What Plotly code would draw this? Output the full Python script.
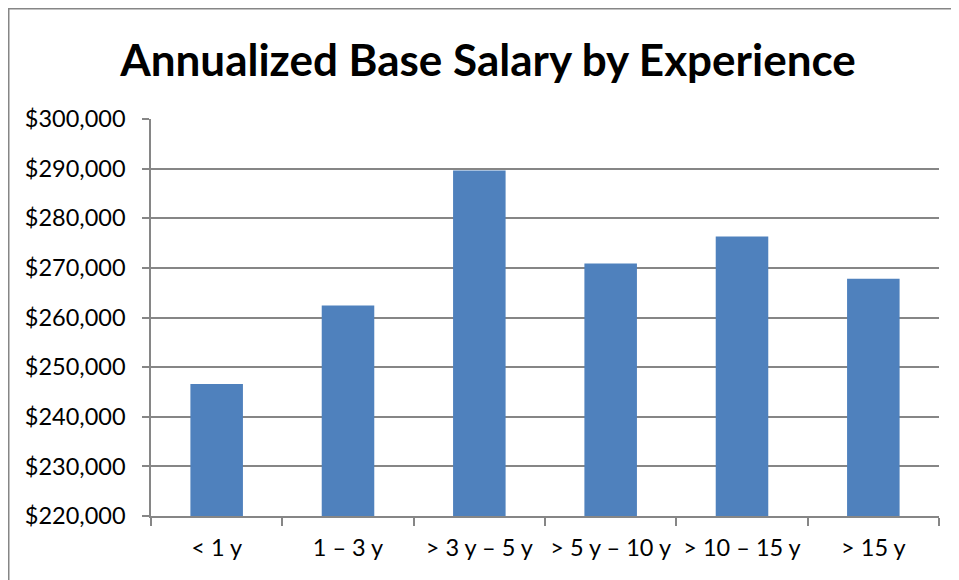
import plotly.graph_objects as go

categories = ["< 1 y", "1 – 3 y", "> 3 y – 5 y", "> 5 y – 10 y", "> 10 – 15 y", "> 15 y"]
salaries = [246600, 262400, 289600, 270900, 276300, 267800]
y_tick_values = [220000, 230000, 240000, 250000, 260000, 270000, 280000, 290000, 300000]
y_tick_labels = ["$220,000", "$230,000", "$240,000", "$250,000", "$260,000",
                 "$270,000", "$280,000", "$290,000", "$300,000"]
title_text = "Annualized Base Salary by Experience"

# page body has an 8px margin, so the figure fills the window from (8, 8)
W, H = 951, 572
L, R, T, B = 143, 20, 111, 64
pw, ph = W - L - R, H - T - B

def px_x(x):
    return (x - L) / pw

def px_y(y):
    return (H - B - y) / ph

GRID = "#868686"
FONT = "Lato, Calibri, sans-serif"

fig = go.Figure(go.Bar(
    x=categories, y=salaries,
    marker=dict(color="#4F81BD", line=dict(width=0)),
    width=0.4,
))

fig.update_layout(
    width=W, height=H,
    margin=dict(l=L, r=R, t=T, b=B),
    paper_bgcolor="white", plot_bgcolor="white",
    showlegend=False,
    title=dict(text="<b>" + title_text + "</b>", x=(488 - 8) / W, xanchor="center",
               y=1 - 53 / H, yanchor="middle",
               font=dict(family=FONT, size=44, color="black")),
    font=dict(family=FONT, color="black"),
)

fig.update_yaxes(
    range=[220000, 300000],
    tickvals=y_tick_values, ticktext=y_tick_labels,
    showgrid=True, gridcolor=GRID, gridwidth=1.5,
    ticks="outside", ticklen=7, tickcolor=GRID, tickwidth=1.5,
    showline=True, linecolor=GRID, linewidth=1.5,
    zeroline=False,
    tickfont=dict(family=FONT, size=23.5, color="black"),
    ticklabelstandoff=12,
)
fig.update_xaxes(
    type="category",
    tickson="boundaries",
    ticks="outside", ticklen=8, tickcolor=GRID, tickwidth=1.5,
    showline=True, linecolor=GRID, linewidth=1.5,
    showgrid=False,
    tickfont=dict(family=FONT, size=23.5, color="black"),
    ticklabelstandoff=10,
)

# chart frame (left and top borders)
fig.add_shape(type="line", xref="paper", yref="paper",
              x0=px_x(0.5), x1=px_x(0.5), y0=px_y(0), y1=px_y(H + 5),
              line=dict(color=GRID, width=2))
fig.add_shape(type="line", xref="paper", yref="paper",
              x0=px_x(0), x1=px_x(W + 5), y0=px_y(0.5), y1=px_y(0.5),
              line=dict(color=GRID, width=2))

fig.write_html("out.html")
